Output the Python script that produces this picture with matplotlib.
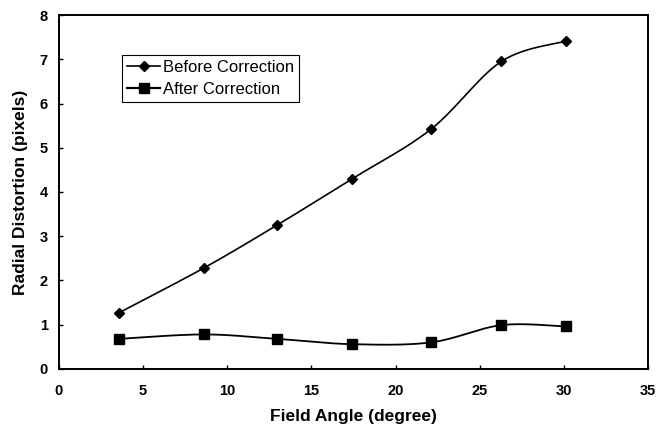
import numpy as np
import matplotlib
matplotlib.use("Agg")
import matplotlib.pyplot as plt
from matplotlib.lines import Line2D

plt.rcParams['font.family'] = ['Liberation Sans', 'DejaVu Sans']

# Data
field_angle = [3.57, 8.6, 12.95, 17.38, 22.1, 26.27, 30.1]
before = [1.27, 2.28, 3.25, 4.29, 5.42, 6.95, 7.41]
after = [0.68, 0.78, 0.68, 0.56, 0.60, 0.99, 0.96]


def smooth(x, y, n=30):
    # Catmull-Rom style smoothing, like a spreadsheet "smoothed line"
    x = np.asarray(x, float)
    y = np.asarray(y, float)
    px = np.concatenate([[x[0]], x, [x[-1]]])
    py = np.concatenate([[y[0]], y, [y[-1]]])
    xs, ys = [], []
    t = np.linspace(0, 1, n)
    for i in range(1, len(px) - 2):
        p0 = np.array([px[i], py[i]])
        p3 = np.array([px[i + 1], py[i + 1]])
        c1 = p0 + (np.array([px[i + 1], py[i + 1]]) - np.array([px[i - 1], py[i - 1]])) / 6
        c2 = p3 - (np.array([px[i + 2], py[i + 2]]) - np.array([px[i], py[i]])) / 6
        b = (np.outer((1 - t) ** 3, p0) + np.outer(3 * (1 - t) ** 2 * t, c1)
             + np.outer(3 * (1 - t) * t ** 2, c2) + np.outer(t ** 3, p3))
        xs.extend(b[:, 0])
        ys.extend(b[:, 1])
    return xs, ys


fig = plt.figure(figsize=(6.69, 4.30), dpi=100)
ax = fig.add_axes([0.088, 0.142, 0.881, 0.823])

sx, sy = smooth(field_angle, before)
ax.plot(sx, sy, color='black', linewidth=1.2)
ax.plot(field_angle, before, linestyle='none', marker='D', markersize=5.5, color='black')

sx, sy = smooth(field_angle, after)
ax.plot(sx, sy, color='black', linewidth=1.3)
ax.plot(field_angle, after, linestyle='none', marker='s', markersize=7, color='black')

ax.set_xlim(0, 35)
ax.set_ylim(0, 8)
ax.set_xticks(range(0, 36, 5))
ax.set_yticks(range(0, 9))
ax.tick_params(direction='in', length=3, width=1, labelsize=10.5)
ax.tick_params(axis='x', pad=11)
ax.tick_params(axis='y', pad=8)
for lab in ax.get_xticklabels() + ax.get_yticklabels():
    lab.set_fontweight('bold')
for s in ax.spines.values():
    s.set_linewidth(1.4)

ax.set_xlabel('Field Angle (degree)', fontsize=12.5, fontweight='bold', labelpad=8)
ax.set_ylabel('Radial Distortion (pixels)', fontsize=12.5, fontweight='bold', labelpad=8)

handles = [
    Line2D([], [], color='black', linewidth=1.2, marker='D', markersize=5.5),
    Line2D([], [], color='black', linewidth=1.6, marker='s', markersize=7),
]
leg = ax.legend(handles, ['Before Correction', 'After Correction'],
                loc='upper left', bbox_to_anchor=(0.107, 0.887), fontsize=12,
                fancybox=False, edgecolor='black', framealpha=1,
                handlelength=2.0, handletextpad=0.15, borderpad=0.3,
                labelspacing=0.42, borderaxespad=0)
leg.get_frame().set_linewidth(0.8)

fig.savefig('out.png', dpi=100)
